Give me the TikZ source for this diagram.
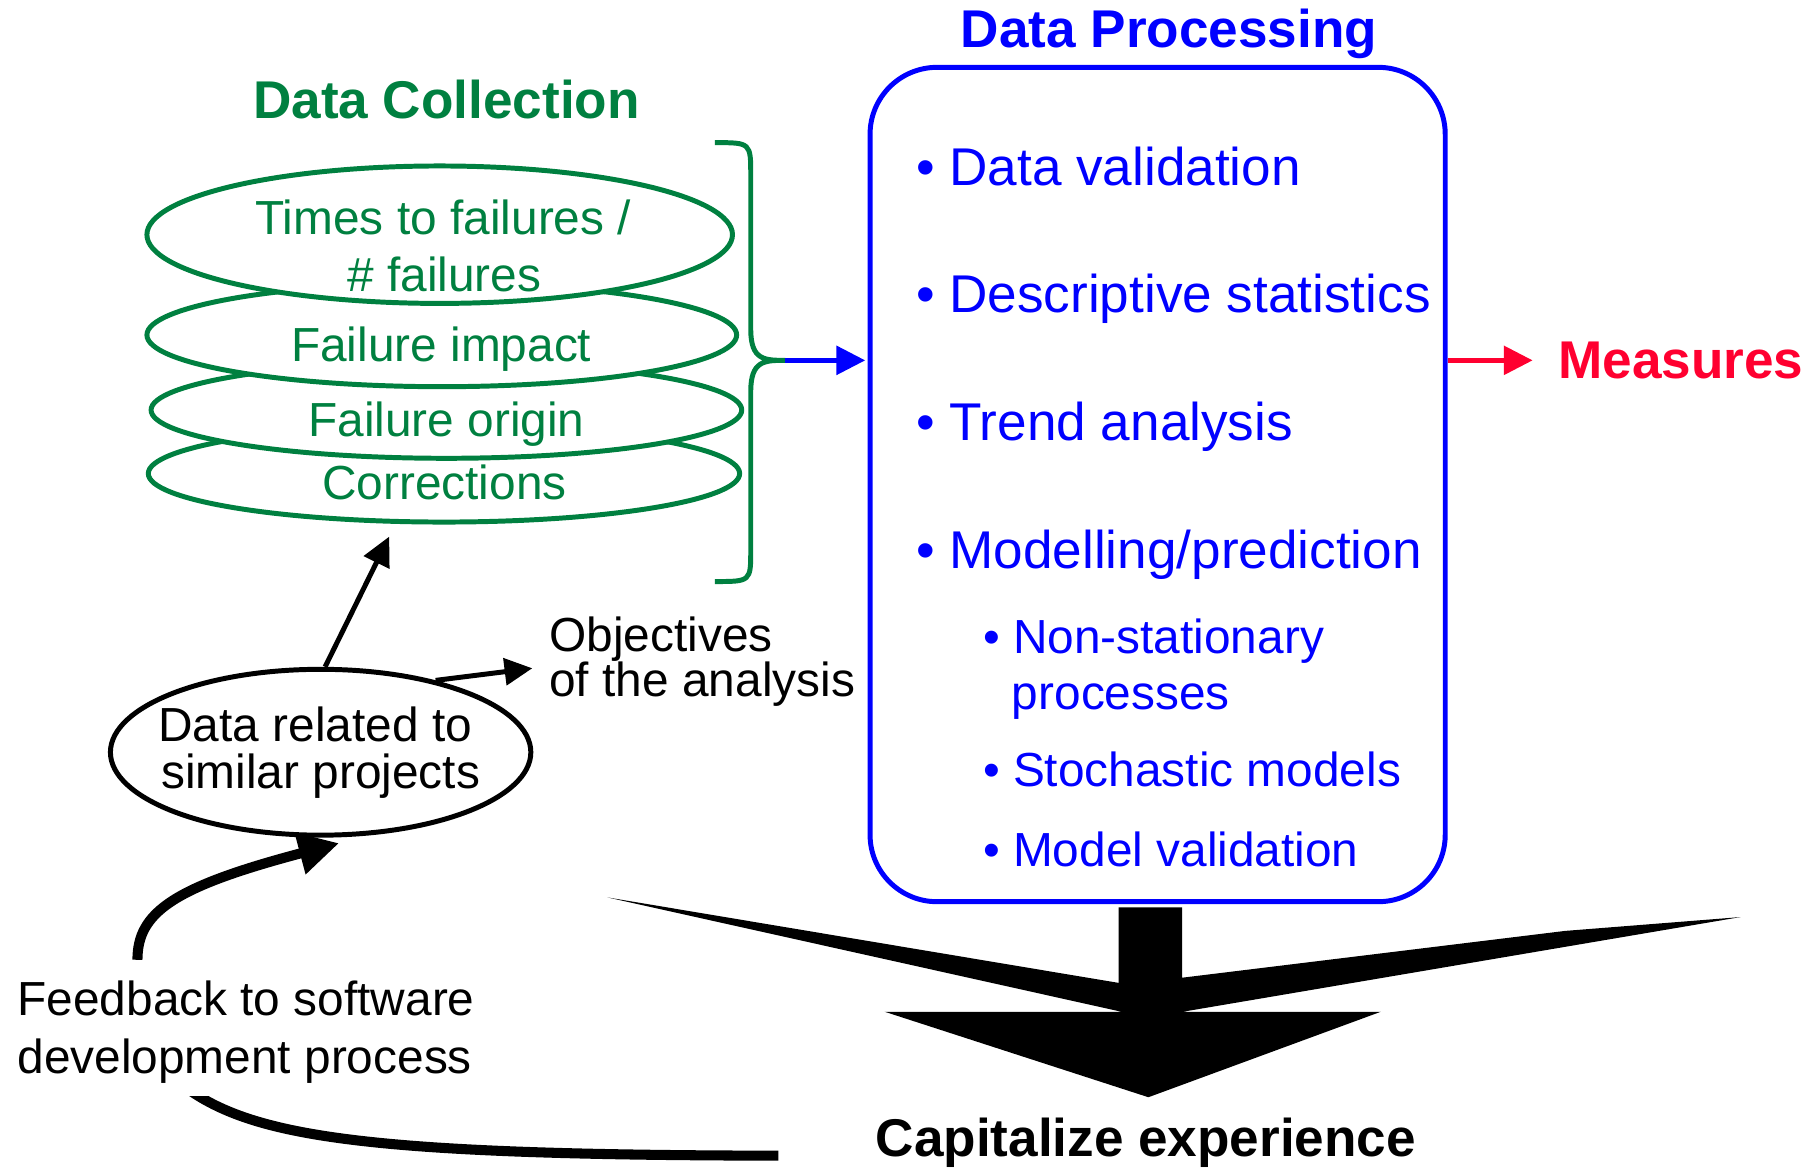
\documentclass[tikz,border=0pt]{standalone}
\usepackage{fontspec}
\setmainfont{Liberation Sans}
\usetikzlibrary{arrows.meta,shapes.geometric}
\definecolor{dcgreen}{RGB}{0,128,64}
\definecolor{dpblue}{RGB}{0,0,255}
\definecolor{msred}{RGB}{255,0,48}
\newcommand\bigtxt{\fontsize{46}{55}\selectfont}
\newcommand\smalltxt{\fontsize{41.4}{49.6}\selectfont}

\begin{document}
\begin{tikzpicture}[x=1pt,y=-1pt,line width=4.3pt,
  collect/.style={draw=dcgreen,fill=white,ellipse,inner sep=0pt},
  gtext/.style={text=dcgreen,font=\smalltxt,inner sep=0pt,anchor=base},
  btext/.style={text=dpblue,font=\bigtxt,inner sep=0pt,anchor=base west},
  sbtext/.style={text=dpblue,font=\smalltxt,inner sep=0pt,anchor=base west},
  ktext/.style={text=black,font=\smalltxt,inner sep=0pt},
  title/.style={font=\bigtxt\bfseries,inner sep=0pt,anchor=base west},
  tip/.style={-{Triangle[length=25pt,width=24.5pt]}}]

\useasboundingbox (0,0) rectangle (1568,1011);

% titles
\node[title,text=dpblue] (tproc) at (829.8,41.3) {Data Processing};
\node[title,text=dcgreen] (tcoll) at (217,103) {Data Collection};

% stack of collected data (drawn bottom to top)
\node[collect,minimum width=512pt,minimum height=84pt] (corr) at (384.4,410) {};
\node[collect,minimum width=511.4pt,minimum height=83.6pt] (orig) at (386.5,355) {};
\node[collect,minimum width=510.6pt,minimum height=89.6pt] (impact) at (382.5,290) {};
\node[collect,minimum width=507pt,minimum height=119pt] (times) at (380.7,203.2) {};
\node[gtext] (ttimes1) at (383.8,202.9) {Times to failures /};
\node[gtext] (ttimes2) at (384.7,252.5) {\# failures};
\node[gtext] (timpact) at (382,313.1) {Failure impact};
\node[gtext] (torig) at (386.5,378.1) {Failure origin};
\node[gtext] (tcorr) at (384.7,432.9) {Corrections};

% brace grouping the collected data
\coordinate (cusp) at (680,312);
\draw[dcgreen] (619,123.5) .. controls (650,123.5) .. (650,152) -- (650,285)
  .. controls (650,312) and (662,312) .. (cusp)
  .. controls (662,312) and (650,312) .. (650,339) -- (650,476)
  .. controls (650,503.5) .. (619,503.5);

% data processing box
\node[draw=dpblue,rounded corners=58pt,minimum width=498pt,minimum height=722.4pt,inner sep=0pt] (dp) at (1002.3,419.5) {};
\node[btext] (b1) at (791,160.2) {• Data validation};
\node[btext] (b2) at (791,270.7) {• Descriptive statistics};
\node[btext] (b3) at (791,381.5) {• Trend analysis};
\node[btext] (b4) at (791,492) {• Modelling/prediction};
\node[sbtext] (s1) at (849,566.2) {• Non-stationary};
\node[sbtext] (s1b) at (874,614.7) {processes};
\node[sbtext] (s2) at (849,681.1) {• Stochastic models};
\node[sbtext] (s3) at (849,750.4) {• Model validation};

\draw[dpblue,tip,shorten >=2pt] (cusp) -- (cusp -| dp.west);

% measures
\node[title,text=msred] (meas) at (1347,328.1) {Measures};
\coordinate (mtip) at (1327,312);
\draw[msred,tip] (cusp -| dp.east) -- (mtip);

% similar projects
\node[draw,ellipse,minimum width=364pt,minimum height=143.6pt,inner sep=0pt] (dr) at (277.6,651.3) {};
\node[ktext,anchor=base] (dr1) at (272.9,642.1) {Data related to};
\node[ktext,anchor=base] (dr2) at (277.6,682.5) {similar projects};
\node[ktext,anchor=base west] (obj1) at (473.5,564.2) {Objectives};
\node[ktext,anchor=base west] (obj2) at (473.5,603.2) {of the analysis};
\coordinate (ctip) at (337,464.6);
\coordinate (otip) at (460.9,578.6);
\draw[-{Triangle[length=25pt,width=24pt]}] (dr.87) -- (ctip);
\draw[-{Triangle[length=24pt,width=23pt]}] (dr.32) -- (otip);

% feedback loop
\node[ktext,anchor=base west] (fb1) at (13,879.5) {Feedback to software};
\node[ktext,anchor=base west] (fb2) at (13,929.3) {development process};
\coordinate (fbstart) at (119,831);
\coordinate (fbtip) at (293.6,730);
\draw[line width=8.7pt,-{Triangle[length=35pt,width=35pt]}] (fbstart) .. controls (119,790) and (150,768) .. (fbtip);
\coordinate (captail) at (674,1000.6);
\begin{scope}
  \clip (0,949) rectangle (800,1011);
  \draw[line width=8.7pt] (captail) .. controls (320,1000) and (220,985) .. (160,941);
\end{scope}

% merging arrow towards experience capitalisation
\fill (526,777) -- (968.5,851) -- (968.5,785.6) -- (1023.6,785.6) -- (1023.6,846.5)
  -- (1355,806) -- (1507,794) -- (1024,876) -- (1195.5,876) -- (994.3,950)
  -- (766,876) -- (971,876) -- cycle;
\node[title,text=black] (cap) at (756,1001) {Capitalize experience};

\end{tikzpicture}
\end{document}
